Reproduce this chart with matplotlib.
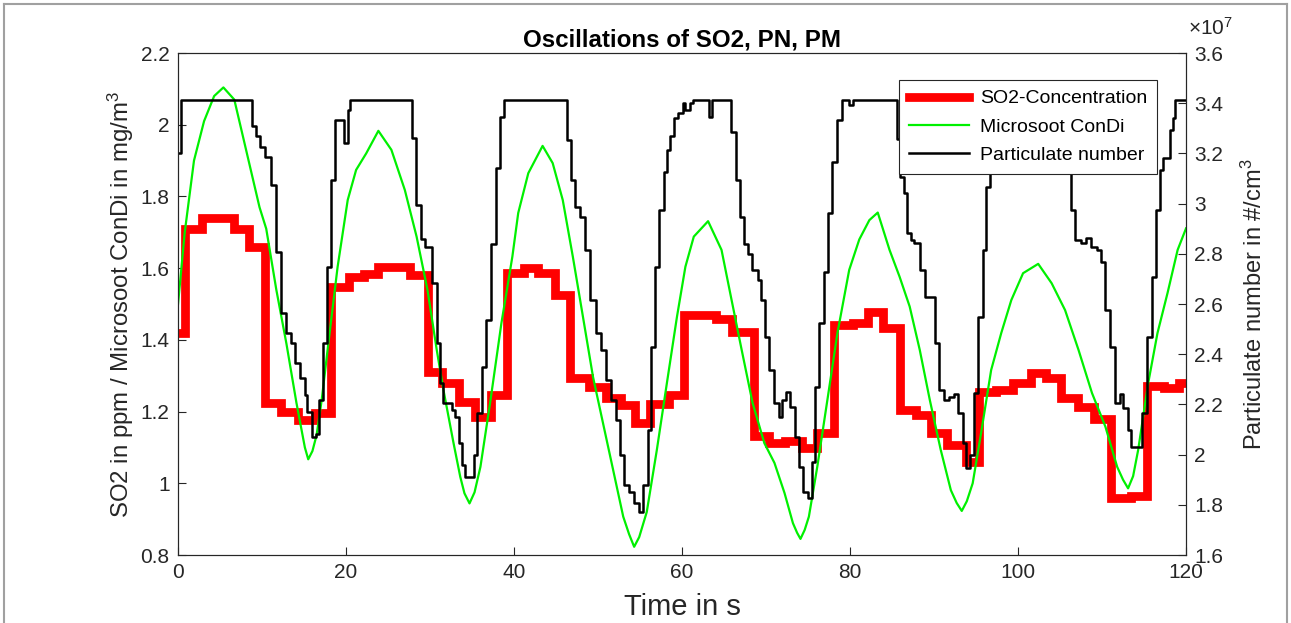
import matplotlib
matplotlib.use("Agg")
import matplotlib.pyplot as plt
from matplotlib.lines import Line2D

plt.rcParams['font.family'] = 'Liberation Sans'
plt.rcParams['mathtext.fontset'] = 'custom'
plt.rcParams['mathtext.rm'] = 'Liberation Sans'
plt.rcParams['mathtext.it'] = 'Liberation Sans:italic'

# SO2 concentration (step, ppm)
so2_t = [0, 0.8, 2.9, 6.7, 8.45, 10.4, 12.3, 14.3, 16.3, 18.2,
         20.3, 22.1, 23.85, 27.6, 29.7, 31.4, 33.4, 35.4, 37.2, 39.2,
         41.2, 42.9, 44.9, 46.7, 48.9, 50.9, 52.7, 54.4, 56.2, 58.4,
         60.2, 64.0, 66.0, 68.6, 70.4, 72.3, 74.3, 76.1, 78.1, 80.3,
         82.1, 83.9, 86.0, 87.8, 89.6, 91.6, 93.8, 95.4, 97.4, 99.4,
         101.5, 103.3, 105.1, 107.1, 109.1, 111.1, 113.5, 115.4, 117.4, 119.2,
         120]
so2_v = [1.42, 1.71, 1.74, 1.71, 1.66, 1.225, 1.20, 1.177, 1.195, 1.548,
         1.576, 1.584, 1.604, 1.58, 1.311, 1.279, 1.228, 1.186, 1.246, 1.587,
         1.60, 1.587, 1.525, 1.293, 1.269, 1.237, 1.218, 1.167, 1.221, 1.246,
         1.469, 1.457, 1.423, 1.132, 1.112, 1.119, 1.098, 1.14, 1.441, 1.448,
         1.479, 1.432, 1.204, 1.19, 1.14, 1.107, 1.06, 1.255, 1.26, 1.279,
         1.308, 1.295, 1.237, 1.214, 1.179, 0.958, 0.965, 1.271, 1.265, 1.28,
         1.28]

# Microsoot ConDi (mg/m3)
ms_t = [0, 0.8, 1.9, 3.1, 4.3, 5.4, 6.7, 8.1, 9.7, 10.5,
        11.7, 12.9, 14.1, 15.1, 15.5, 16.0, 16.5, 17.1, 17.9, 19.0,
        20.2, 21.2, 22.4, 23.85, 25.4, 27.0, 28.4, 29.7, 30.8, 31.6,
        32.8, 33.6, 34.1, 34.7, 35.3, 36.0, 37.2, 38.5, 39.8, 40.5,
        41.7, 43.4, 44.6, 45.8, 47.0, 48.2, 49.4, 50.6, 51.8, 53.0,
        53.7, 54.3, 54.9, 55.8, 57.0, 58.2, 59.4, 60.4, 61.4, 63.1,
        64.7, 65.9, 67.1, 68.4, 69.8, 71.0, 72.2, 73.2, 73.7, 74.1,
        74.6, 75.1, 76.1, 77.3, 78.5, 79.9, 81.1, 82.3, 83.3, 84.7,
        85.9, 87.1, 88.3, 89.5, 90.8, 92.0, 92.7, 93.3, 93.9, 94.6,
        95.6, 96.8, 98.0, 99.2, 100.6, 102.4, 104.0, 105.6, 107.2, 108.8,
        110.4, 111.8, 112.5, 113.1, 113.7, 114.3, 115.5, 116.6, 117.8, 119.0,
        120]
ms_v = [1.50, 1.70, 1.90, 2.01, 2.08, 2.104, 2.07, 1.93, 1.77, 1.71,
        1.54, 1.39, 1.224, 1.10, 1.067, 1.09, 1.135, 1.232, 1.391, 1.604,
        1.79, 1.874, 1.92, 1.983, 1.93, 1.818, 1.688, 1.539, 1.372, 1.26,
        1.112, 1.018, 0.972, 0.944, 0.975, 1.046, 1.232, 1.447, 1.632, 1.754,
        1.865, 1.941, 1.893, 1.79, 1.632, 1.465, 1.297, 1.167, 1.037, 0.907,
        0.858, 0.823, 0.85, 0.92, 1.093, 1.28, 1.465, 1.604, 1.688, 1.731,
        1.651, 1.511, 1.372, 1.224, 1.112, 1.057, 0.973, 0.889, 0.862, 0.845,
        0.87, 0.907, 1.046, 1.232, 1.419, 1.595, 1.68, 1.734, 1.755, 1.651,
        1.576, 1.493, 1.372, 1.232, 1.093, 0.981, 0.945, 0.923, 0.95, 1.0,
        1.14, 1.316, 1.419, 1.511, 1.586, 1.612, 1.558, 1.483, 1.372, 1.252,
        1.158, 1.046, 1.01, 0.986, 1.02, 1.093, 1.28, 1.419, 1.531, 1.651,
        1.711]

# Particulate number (step, x1e7 #/cm3)
pn_t = [0, 0.4, 8.85, 9.3, 9.8, 10.3, 11.1, 11.7, 12.3, 12.9,
        13.4, 13.9, 14.5, 15.1, 15.4, 15.9, 16.4, 16.8, 17.2, 17.7,
        18.2, 18.7, 19.8, 20.2, 20.5, 27.8, 28.3, 28.9, 29.4, 30.2,
        30.8, 31.2, 31.6, 32.6, 33.0, 33.4, 33.8, 34.2, 35.2, 35.6,
        36.2, 36.7, 37.2, 37.8, 38.3, 38.8, 46.3, 46.8, 47.3, 47.9,
        48.5, 49.1, 49.7, 50.3, 50.9, 51.5, 52.1, 52.6, 53.1, 53.7,
        54.3, 54.9, 55.4, 55.9, 56.3, 56.8, 57.3, 57.8, 58.2, 58.6,
        59.0, 59.5, 60.1, 60.4, 60.9, 61.3, 63.2, 63.6, 65.8, 66.4,
        66.9, 67.4, 67.8, 68.3, 69.0, 69.4, 69.9, 70.4, 71.0, 71.5,
        71.9, 72.4, 72.9, 73.4, 73.9, 74.4, 75.0, 75.5, 75.8, 76.3,
        76.9, 77.4, 77.9, 78.4, 79.0, 79.9, 80.3, 85.6, 86.0, 86.4,
        86.8, 87.2, 87.6, 88.3, 88.9, 90.1, 90.6, 91.2, 91.8, 92.4,
        92.8, 93.4, 93.8, 94.3, 94.7, 95.2, 95.8, 96.2, 96.7, 97.2,
        105.8, 106.3, 106.8, 107.5, 108.1, 108.7, 109.4, 109.9, 110.3, 110.9,
        111.5, 112.1, 112.5, 113.1, 113.4, 114.7, 115.3, 115.9, 116.4, 116.9,
        117.3, 118.1, 118.4, 118.7, 120]
pn_v = [3.200, 3.414, 3.309, 3.270, 3.227, 3.187, 3.074, 2.808, 2.563, 2.483,
        2.444, 2.364, 2.304, 2.237, 2.171, 2.071, 2.084, 2.217, 2.443, 2.749,
        3.094, 3.333, 3.240, 3.373, 3.414, 3.260, 2.994, 2.861, 2.829, 2.683,
        2.443, 2.284, 2.204, 2.177, 2.151, 2.046, 1.958, 1.911, 1.998, 2.164,
        2.350, 2.536, 2.841, 3.140, 3.346, 3.414, 3.253, 3.094, 2.987, 2.947,
        2.816, 2.616, 2.483, 2.417, 2.297, 2.217, 2.138, 1.998, 1.878, 1.853,
        1.806, 1.773, 1.878, 2.098, 2.430, 2.749, 2.974, 3.127, 3.214, 3.271,
        3.343, 3.360, 3.400, 3.371, 3.400, 3.414, 3.346, 3.414, 3.287, 3.094,
        2.947, 2.841, 2.800, 2.736, 2.696, 2.616, 2.470, 2.337, 2.204, 2.151,
        2.217, 2.251, 2.191, 2.071, 1.951, 1.853, 1.826, 1.971, 2.270, 2.523,
        2.728, 2.961, 3.167, 3.333, 3.414, 3.393, 3.414, 3.257, 3.107, 3.041,
        2.881, 2.857, 2.843, 2.736, 2.628, 2.443, 2.257, 2.217, 2.228, 2.243,
        2.164, 2.046, 1.946, 2.000, 2.244, 2.550, 2.816, 3.067, 3.243, 3.414,
        3.257, 2.974, 2.856, 2.843, 2.864, 2.829, 2.814, 2.768, 2.576, 2.430,
        2.204, 2.243, 2.186, 2.098, 2.031, 2.164, 2.470, 2.708, 2.974, 3.134,
        3.180, 3.293, 3.343, 3.414, 3.414]

left_ticks = [0.8, 1, 1.2, 1.4, 1.6, 1.8, 2, 2.2]
right_ticks = [1.6, 1.8, 2, 2.2, 2.4, 2.6, 2.8, 3, 3.2, 3.4, 3.6]
x_ticks = [0, 20, 40, 60, 80, 100, 120]

dark = '#262626'

fig = plt.figure(figsize=(12.91, 6.23), dpi=100)
ax = fig.add_axes([0.1379, 0.1091, 0.7808, 0.8058])
ax2 = ax.twinx()

l1, = ax.step(so2_t, so2_v, where='post', color='#ff0000', lw=6.3,
              solid_joinstyle='miter', label='SO2-Concentration')
l2, = ax.plot(ms_t, ms_v, color='#00f000', lw=1.6, label='Microsoot ConDi')
l3, = ax2.step(pn_t, pn_v, where='post', color='black', lw=1.8,
               label='Particulate number')

ax.set_xlim(0, 120)
ax.set_ylim(0.8, 2.2)
ax2.set_ylim(1.6, 3.6)

ax.set_xticks(x_ticks)
ax.set_xticklabels([str(v) for v in x_ticks])
ax.set_yticks(left_ticks)
ax.set_yticklabels([f'{v:g}' for v in left_ticks])
ax2.set_yticks(right_ticks)
ax2.set_yticklabels([f'{v:g}' for v in right_ticks])

for a in (ax, ax2):
    a.tick_params(direction='in', length=6, width=0.8, colors=dark,
                  labelsize=15, pad=6)
    for s in a.spines.values():
        s.set_color(dark)
        s.set_linewidth(0.8)
ax.tick_params(axis='y', right=False)
ax2.tick_params(axis='y', left=False)

ax.set_xlabel('Time in s', fontsize=21, color=dark, labelpad=8)
ax.set_ylabel('SO2 in ppm / Microsoot ConDi in mg/m$^3$', fontsize=17.3,
              color=dark, labelpad=3)
ax2.set_ylabel('Particulate number in #/cm$^3$', fontsize=17, color=dark,
               labelpad=13)
ax.set_title('Oscillations of SO2, PN, PM', fontsize=17.4, fontweight='bold',
             color='black', pad=5)

fig.text(0.9205, 0.955, r'$\times$10$^{7}$', fontsize=15, color=dark,
         ha='left', va='center')

leg = ax2.legend([l1, l2, l3], [l1.get_label(), l2.get_label(), l3.get_label()],
                 loc='upper right', bbox_to_anchor=(0.971, 0.946),
                 fancybox=False, framealpha=1, edgecolor=dark, fontsize=14,
                 handlelength=3.1, borderpad=0.5, labelspacing=0.55,
                 handletextpad=0.55, borderaxespad=0)
leg.get_frame().set_linewidth(0.8)

# screenshot frame
fig.add_artist(Line2D([0.003, 0.997], [0.994, 0.994], color='#a0a0a0', lw=1.5))
fig.add_artist(Line2D([0.003, 0.003], [0.0, 0.994], color='#a0a0a0', lw=1.5))
fig.add_artist(Line2D([0.997, 0.997], [0.0, 0.994], color='#a0a0a0', lw=1.5))

fig.savefig('out.png', dpi=100)
